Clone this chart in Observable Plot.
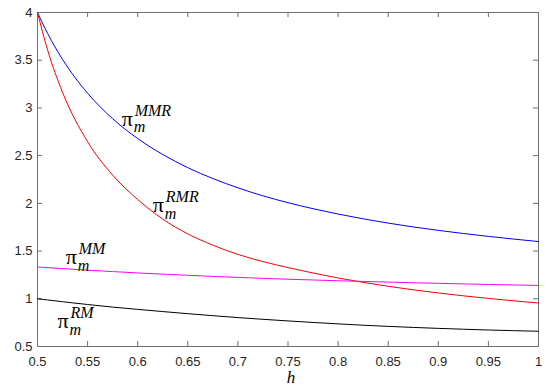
<!DOCTYPE html>
<html>
<head>
<meta charset="utf-8">
<script src="https://cdn.jsdelivr.net/npm/d3@7"></script>
<script src="https://cdn.jsdelivr.net/npm/@observablehq/plot@0.6"></script>
<style>
  html, body { margin: 0; padding: 0; background: #fff; }
  #chart { width: 550px; height: 391px; }
</style>
</head>
<body>
<div id="chart"></div>
<script>
// ---- data ----
const h      = [0.5, 0.51, 0.525, 0.55, 0.575, 0.6, 0.625, 0.65, 0.675, 0.7, 0.725, 0.75, 0.775, 0.8, 0.825, 0.85, 0.875, 0.9, 0.925, 0.95, 0.975, 1.0];
const piMMR  = [4.00, 3.782, 3.508, 3.154, 2.887, 2.679, 2.512, 2.374, 2.260, 2.163, 2.079, 2.007, 1.944, 1.888, 1.838, 1.793, 1.753, 1.717, 1.684, 1.654, 1.626, 1.600];
const piRMR  = [4.00, 3.610, 3.163, 2.646, 2.296, 2.040, 1.835, 1.680, 1.562, 1.465, 1.390, 1.327, 1.270, 1.218, 1.172, 1.131, 1.094, 1.061, 1.031, 1.004, 0.979, 0.956];
const piMM   = [1.333, 1.326, 1.316, 1.300, 1.285, 1.271, 1.258, 1.246, 1.235, 1.224, 1.214, 1.205, 1.197, 1.189, 1.182, 1.175, 1.168, 1.162, 1.156, 1.150, 1.145, 1.140];
const piRM   = [1.000, 0.988, 0.969, 0.940, 0.913, 0.889, 0.866, 0.844, 0.823, 0.803, 0.785, 0.768, 0.752, 0.737, 0.723, 0.711, 0.700, 0.690, 0.681, 0.673, 0.666, 0.660];

const seriesNames  = ["MMR", "RMR", "MM", "RM"];
const seriesValues = [piMMR, piRMR, piMM, piRM];
const seriesColors = ["#0000ff", "#ff0000", "#ff00ff", "#000000"];

// curve labels (position of the π, in data units)
const labelH   = [0.5895, 0.6206, 0.5337, 0.5254];
const labelV   = [2.888, 1.983, 1.437, 0.767];
const labelSup = ["MMR", "RMR", "MM", "RM"];

const xTicks = [0.5, 0.55, 0.6, 0.65, 0.7, 0.75, 0.8, 0.85, 0.9, 0.95, 1];
const yTicks = [0.5, 1, 1.5, 2, 2.5, 3, 3.5, 4];
const xLabel = "h";

// ---- build table ----
const rows = seriesNames.flatMap((name, i) =>
  h.map((hv, j) => ({h: hv, v: seriesValues[i][j], series: name})));
const labels = labelSup.map((s, i) => ({h: labelH[i], v: labelV[i], sup: s}));

const W = 550, H = 391;
const mL = 37, mR = 12, mT = 12, mB = 45;
const innerW = W - mL - mR, innerH = H - mT - mB;
const tickLen = 5;
const axisColor = "#6f6f6f";
const serif = "'Liberation Serif', 'DejaVu Serif', serif";
const fmt = d => String(d);

const chart = Plot.plot({
  width: W,
  height: H,
  marginLeft: mL,
  marginRight: mR,
  marginTop: mT,
  marginBottom: mB,
  style: {fontFamily: "'Liberation Sans', Arial, sans-serif", fontSize: "13px", color: "#262626", background: "#fff"},
  x: {domain: [0.5, 1]},
  y: {domain: [0.5, 4]},
  color: {domain: seriesNames, range: seriesColors},
  marks: [
    Plot.frame({stroke: axisColor, strokeWidth: 1}),
    // inward ticks on all four sides
    Plot.tickX(xTicks, {x: d => d, stroke: axisColor, insetTop: innerH - tickLen}),
    Plot.tickX(xTicks, {x: d => d, stroke: axisColor, insetBottom: innerH - tickLen}),
    Plot.tickY(yTicks, {y: d => d, stroke: axisColor, insetRight: innerW - tickLen}),
    Plot.tickY(yTicks, {y: d => d, stroke: axisColor, insetLeft: innerW - tickLen}),
    Plot.axisX(xTicks, {tickSize: 0, tickPadding: 10, label: null, tickFormat: fmt, fill: "#262626"}),
    Plot.axisY(yTicks, {tickSize: 0, tickPadding: 5, label: null, tickFormat: fmt, fill: "#262626"}),
    Plot.line(rows, {x: "h", y: "v", z: "series", stroke: "series", strokeWidth: 1, curve: "monotone-x"}),
    // labels: π with super- and subscripts
    Plot.text(labels, {x: "h", y: "v", text: () => "π", fontFamily: serif, fontSize: 22, fill: "#000", textAnchor: "middle", lineAnchor: "middle"}),
    Plot.text(labels, {x: "h", y: "v", text: "sup", fontFamily: serif, fontStyle: "italic", fontSize: 16, fill: "#000", textAnchor: "start", lineAnchor: "middle", dx: 7.5, dy: -8}),
    Plot.text(labels, {x: "h", y: "v", text: () => "m", fontFamily: serif, fontStyle: "italic", fontSize: 16, fill: "#000", textAnchor: "start", lineAnchor: "middle", dx: 6.5, dy: 8.5}),
    Plot.text([xLabel], {frameAnchor: "bottom", text: d => d, fontFamily: serif, fontStyle: "italic", fontSize: 17, fill: "#000", dx: 3, dy: 31, lineAnchor: "middle"})
  ]
});
document.getElementById("chart").appendChild(chart);
</script>
</body>
</html>
